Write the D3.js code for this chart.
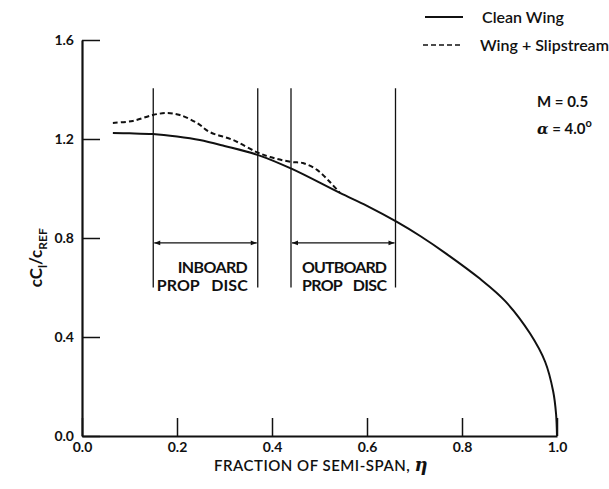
<!DOCTYPE html>
<html>
<head>
<meta charset="utf-8">
<script src="https://cdn.jsdelivr.net/npm/d3@7"></script>
<style>
  body { margin: 0; background: #fff; }
  text { font-family: Lato, "Liberation Sans", sans-serif; fill: #111; }
</style>
</head>
<body>
<div id="chart"></div>
<script>
// spanwise load, clean wing
var cleanEta = [0.065, 0.10, 0.149, 0.20, 0.248, 0.30, 0.371, 0.442, 0.543, 0.60, 0.663, 0.712, 0.768, 0.838, 0.891, 0.943, 0.975, 0.992, 0.998, 1.0];
var cleanVal = [1.224, 1.223, 1.220, 1.210, 1.196, 1.172, 1.135, 1.079, 0.982, 0.930, 0.865, 0.808, 0.735, 0.635, 0.545, 0.415, 0.300, 0.180, 0.090, 0.0];

// wing + slipstream (joins clean curve near 0.54)
var slipEta = [0.065, 0.107, 0.149, 0.179, 0.206, 0.242, 0.269, 0.318, 0.368, 0.396, 0.442, 0.465, 0.495, 0.522, 0.543];
var slipVal = [1.265, 1.273, 1.297, 1.305, 1.297, 1.265, 1.228, 1.196, 1.147, 1.127, 1.107, 1.103, 1.075, 1.026, 0.982];

var xTicks = [0, 0.2, 0.4, 0.6, 0.8, 1.0];
var yTicks = [0, 0.4, 0.8, 1.2, 1.6];

// prop disc extents
var discNames = ["INBOARD", "OUTBOARD"];
var discStart = [0.15, 0.44];
var discEnd = [0.37, 0.66];
var discTop = 1.405, discBottom = 0.60, discArrow = 0.78;

var width = 609, height = 489;
var margin = {top: 40, right: 52, bottom: 53, left: 82};

var svg = d3.select("#chart").append("svg")
    .attr("width", width)
    .attr("height", height);

var x = d3.scaleLinear().domain([0, 1]).range([margin.left, width - margin.right]);
var y = d3.scaleLinear().domain([0, 1.6]).range([height - margin.bottom, margin.top]);

var defs = svg.append("defs");
defs.append("marker")
    .attr("id", "arr")
    .attr("viewBox", "0 0 10 10")
    .attr("refX", 10).attr("refY", 5)
    .attr("markerWidth", 7).attr("markerHeight", 5)
    .attr("orient", "auto-start-reverse")
  .append("path")
    .attr("d", "M0,1L10,5L0,9Z")
    .attr("fill", "#111");

// axes
var xAxis = d3.axisBottom(x).tickValues(xTicks).tickSize(-18).tickSizeOuter(0)
    .tickPadding(6).tickFormat(d3.format(".1f"));
var yAxis = d3.axisLeft(y).tickValues(yTicks).tickSize(-18).tickSizeOuter(0)
    .tickPadding(8).tickFormat(d3.format(".1f"));

var gx = svg.append("g").attr("transform", "translate(0," + y(0) + ")").call(xAxis);
var gy = svg.append("g").attr("transform", "translate(" + x(0) + ",0)").call(yAxis);

[gx, gy].forEach(function(g){
    g.select(".domain").attr("stroke", "#111").attr("stroke-width", 2.2);
    g.selectAll(".tick line").attr("stroke", "#111").attr("stroke-width", 1.5);
    g.selectAll(".tick text")
        .attr("font-family", "Lato, sans-serif")
        .attr("font-weight", 700)
        .attr("font-size", 14)
        .attr("fill", "#111");
});

// curves
var line = d3.line()
    .x(function(d){ return x(d[0]); })
    .y(function(d){ return y(d[1]); })
    .curve(d3.curveCatmullRom.alpha(0.5));

svg.append("path")
    .datum(d3.zip(cleanEta, cleanVal))
    .attr("d", line)
    .attr("fill", "none")
    .attr("stroke", "#111")
    .attr("stroke-width", 2);

svg.append("path")
    .datum(d3.zip(slipEta, slipVal))
    .attr("d", line)
    .attr("fill", "none")
    .attr("stroke", "#111")
    .attr("stroke-width", 2)
    .attr("stroke-dasharray", "5,3");

// prop disc markers
discNames.forEach(function(name, i){
    var g = svg.append("g");
    [discStart[i], discEnd[i]].forEach(function(e){
        g.append("line")
            .attr("x1", x(e)).attr("x2", x(e))
            .attr("y1", y(discTop)).attr("y2", y(discBottom))
            .attr("stroke", "#111").attr("stroke-width", 1.3);
    });
    g.append("line")
        .attr("x1", x(discStart[i]) + 1).attr("x2", x(discEnd[i]) - 1)
        .attr("y1", y(discArrow)).attr("y2", y(discArrow))
        .attr("stroke", "#111").attr("stroke-width", 1.2)
        .attr("marker-start", "url(#arr)")
        .attr("marker-end", "url(#arr)");

    var t = g.append("text")
        .attr("font-weight", 700)
        .attr("font-size", 16)
        .attr("text-anchor", i == 0 ? "end" : "start");
    var tx = i == 0 ? x(discEnd[i]) - 10 : x(discStart[i]) + 11;
    t.append("tspan").attr("x", tx).attr("y", y(discArrow) + 30)
        .attr("textLength", i == 0 ? 70 : 85).attr("lengthAdjust", "spacing")
        .text(name);
    t.append("tspan").attr("x", tx).attr("y", y(discArrow) + 48)
        .attr("word-spacing", 8)
        .attr("textLength", i == 0 ? 91 : 85).attr("lengthAdjust", "spacing")
        .text("PROP DISC");
});

// legend
var lg = svg.append("g");
lg.append("line").attr("x1", 425).attr("x2", 463).attr("y1", 17).attr("y2", 17)
    .attr("stroke", "#111").attr("stroke-width", 1.8);
lg.append("text").attr("x", 482).attr("y", 23).attr("font-size", 16).attr("font-weight", 600)
    .text("Clean Wing");
lg.append("line").attr("x1", 423).attr("x2", 463).attr("y1", 45).attr("y2", 45)
    .attr("stroke", "#111").attr("stroke-width", 1.5).attr("stroke-dasharray", "5,3");
lg.append("text").attr("x", 480).attr("y", 51).attr("font-size", 16).attr("font-weight", 600)
    .text("Wing + Slipstream");

// flight condition
svg.append("text").attr("x", 537).attr("y", 107).attr("font-size", 15).attr("font-weight", 700)
    .text("M = 0.5");
var at = svg.append("text").attr("x", 537).attr("y", 134).attr("font-size", 15).attr("font-weight", 700);
at.append("tspan").attr("font-family", "'DejaVu Serif', serif").attr("font-style", "italic").text("α");
at.append("tspan").text(" = 4.0");
at.append("tspan").attr("dy", -7).attr("font-size", 11).text("o");

// axis titles
var xt = svg.append("text")
    .attr("x", 321).attr("y", height - 18)
    .attr("text-anchor", "middle")
    .attr("font-size", 15).attr("font-weight", 600)
    .attr("letter-spacing", 0.5)
    .text("FRACTION OF SEMI-SPAN, ");
xt.append("tspan").attr("font-family", "'DejaVu Serif', serif").attr("font-style", "italic")
    .attr("font-size", 18).text("η");

var yt = svg.append("text")
    .attr("transform", "translate(42," + y(0.72) + ") rotate(-90)")
    .attr("text-anchor", "middle")
    .attr("font-size", 17).attr("font-weight", 700);
yt.append("tspan").text("cC");
yt.append("tspan").attr("dy", 5).attr("font-size", 12).text("l");
yt.append("tspan").attr("dy", -5).text("/c");
yt.append("tspan").attr("dy", 5).attr("font-size", 12).text("REF");
</script>
</body>
</html>
